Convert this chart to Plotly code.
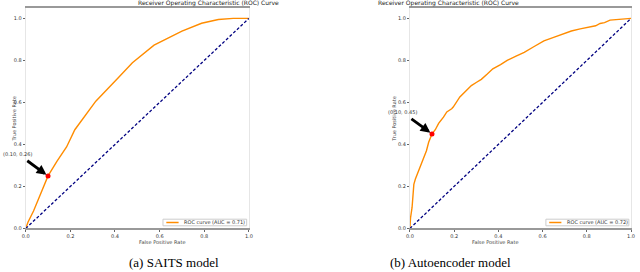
import plotly.graph_objects as go

# SAITS ROC curve
saits_fpr = [0.0, 0.01, 0.035, 0.07, 0.10, 0.139, 0.183, 0.22, 0.314, 0.42, 0.478, 0.575, 0.70, 0.788, 0.863, 0.93, 1.0]
saits_tpr = [0.0, 0.03, 0.083, 0.17, 0.25, 0.318, 0.388, 0.47, 0.606, 0.723, 0.789, 0.873, 0.939, 0.977, 0.995, 1.0, 1.0]
saits_auc = 0.71
saits_point = (0.10, 0.25)
saits_label = "(0.10, 0.26)"

# Autoencoder ROC curve
ae_fpr = [0.0, 0.003, 0.01, 0.018, 0.025, 0.04, 0.052, 0.0625, 0.075, 0.085, 0.10, 0.115, 0.13, 0.152, 0.167, 0.189, 0.196, 0.226,
          0.263, 0.278, 0.30, 0.323, 0.35, 0.375, 0.41, 0.44, 0.48, 0.517, 0.56, 0.606, 0.65, 0.695, 0.73, 0.77, 0.79, 0.814,
          0.84, 0.86, 0.88, 0.905, 0.95, 1.0]
ae_tpr = [0.0, 0.05, 0.10, 0.21, 0.235, 0.275, 0.30, 0.335, 0.37, 0.41, 0.45, 0.47, 0.50, 0.53, 0.555, 0.57, 0.578, 0.626,
          0.664, 0.68, 0.695, 0.71, 0.735, 0.76, 0.78, 0.80, 0.82, 0.838, 0.865, 0.893, 0.91, 0.929, 0.94, 0.95, 0.955, 0.96,
          0.965, 0.976, 0.98, 0.992, 0.996, 1.0]
ae_auc = 0.72
ae_point = (0.10, 0.45)
ae_label = "(0.10, 0.45)"

diag = [0.0, 1.0]
ticks = [0.0, 0.2, 0.4, 0.6, 0.8, 1.0]
tick_text = ["0.0", "0.2", "0.4", "0.6", "0.8", "1.0"]
title_text = "Receiver Operating Characteristic (ROC) Curve"
xlabel = "False Positive Rate"
ylabel = "True Positive Rate"
captions = ["(a) SAITS model", "(b) Autoencoder model"]

W, H = 640, 272
dom_x = [[22 / W, 248 / W], [411 / W, 635 / W]]
dom_y = [(H - 231) / H, (H - 8) / H]

fig = go.Figure()

panels = [(saits_fpr, saits_tpr, saits_auc, saits_point, saits_label, "x", "y"),
          (ae_fpr, ae_tpr, ae_auc, ae_point, ae_label, "x2", "y2")]

for i, (fpr, tpr, auc, pt, lab, xa, ya) in enumerate(panels):
    fig.add_trace(go.Scatter(x=fpr, y=tpr, mode="lines", line=dict(color="#FF8C00", width=1.4),
                             name=f"ROC curve (AUC = {auc:.2f})", xaxis=xa, yaxis=ya, showlegend=False))
    fig.add_trace(go.Scatter(x=diag, y=diag, mode="lines", line=dict(color="navy", width=1.3, dash="3px,2px"),
                             xaxis=xa, yaxis=ya, showlegend=False))
    fig.add_trace(go.Scatter(x=[pt[0]], y=[pt[1]], mode="markers", marker=dict(color="red", size=5),
                             xaxis=xa, yaxis=ya, showlegend=False))
    fig.add_annotation(x=pt[0], y=pt[1], xref=xa, yref=ya, ax=pt[0] - 0.135, ay=pt[1] + 0.105,
                       axref=xa, ayref=ya, text=lab, showarrow=True, arrowhead=2, arrowsize=0.7,
                       arrowwidth=2.8, arrowcolor="black", standoff=2, startstandoff=4,
                       font=dict(size=5, color="#333", family="DejaVu Sans"))
    # legend box (drawn manually to match the compact matplotlib legend)
    xd = xa + " domain"
    yd = ya + " domain"
    fig.add_shape(type="rect", xref=xd, yref=yd, x0=0.615, x1=0.99, y0=0.012, y1=0.042,
                  line=dict(color="#cccccc", width=1), fillcolor="white", layer="above")
    fig.add_shape(type="line", xref=xd, yref=yd, x0=0.63, x1=0.685, y0=0.027, y1=0.027,
                  line=dict(color="#FF8C00", width=1.5), layer="above")
    fig.add_annotation(x=0.70, y=0.027, xref=xd, yref=yd, text=f"ROC curve (AUC = {auc:.2f})",
                       showarrow=False, xanchor="left", yanchor="middle",
                       font=dict(size=5, color="#333", family="DejaVu Sans"))
    cx = (dom_x[i][0] + dom_x[i][1]) / 2
    fig.add_annotation(x=cx, y=dom_y[1], xref="paper", yref="paper", text=title_text, showarrow=False,
                       yanchor="bottom", yshift=0, borderpad=0,
                       font=dict(size=6, color="#222", family="DejaVu Sans"))
    fig.add_annotation(x=cx, y=(H - 245) / H, xref="paper", yref="paper", text=xlabel, showarrow=False,
                       yanchor="middle", font=dict(size=5, color="#444", family="DejaVu Sans"))
    fig.add_annotation(x=(5 if i == 0 else 395) / W, y=(H - 120) / H, xref="paper", yref="paper", text=ylabel,
                       showarrow=False, textangle=-90, font=dict(size=5, color="#444", family="DejaVu Sans"))
    fig.add_annotation(x=(125 if i == 0 else 515) / W, y=(H - 265) / H, xref="paper", yref="paper",
                       text=captions[i], showarrow=False, yanchor="middle",
                       font=dict(size=13, color="black", family="Liberation Serif"))

axis_common = dict(range=[0, 1.0], tickvals=ticks, ticktext=tick_text, ticks="outside", ticklen=2,
                   tickcolor="#666", tickfont=dict(size=5, color="#333", family="DejaVu Sans"),
                   showgrid=False, zeroline=False, showline=True, linecolor="#999", linewidth=1.5,
                   mirror=True)
yaxis_common = dict(range=[0, 1.05], tickvals=ticks, ticktext=tick_text, ticks="outside", ticklen=2,
                    tickcolor="#666", tickfont=dict(size=5, color="#333", family="DejaVu Sans"),
                    showgrid=False, zeroline=False, showline=True, linecolor="#e6e6e6", linewidth=1,
                    mirror=True)

fig.update_layout(
    width=W, height=H, margin=dict(l=0, r=0, t=0, b=0),
    paper_bgcolor="white", plot_bgcolor="white",
    xaxis=dict(domain=dom_x[0], anchor="y", **axis_common),
    yaxis=dict(domain=dom_y, anchor="x", **yaxis_common),
    xaxis2=dict(domain=dom_x[1], anchor="y2", **axis_common),
    yaxis2=dict(domain=dom_y, anchor="x2", **yaxis_common),
    showlegend=False,
)

fig.write_html("out.html", config={"displayModeBar": False},
               post_script="document.body.style.margin='0';document.body.style.overflow='hidden';")
